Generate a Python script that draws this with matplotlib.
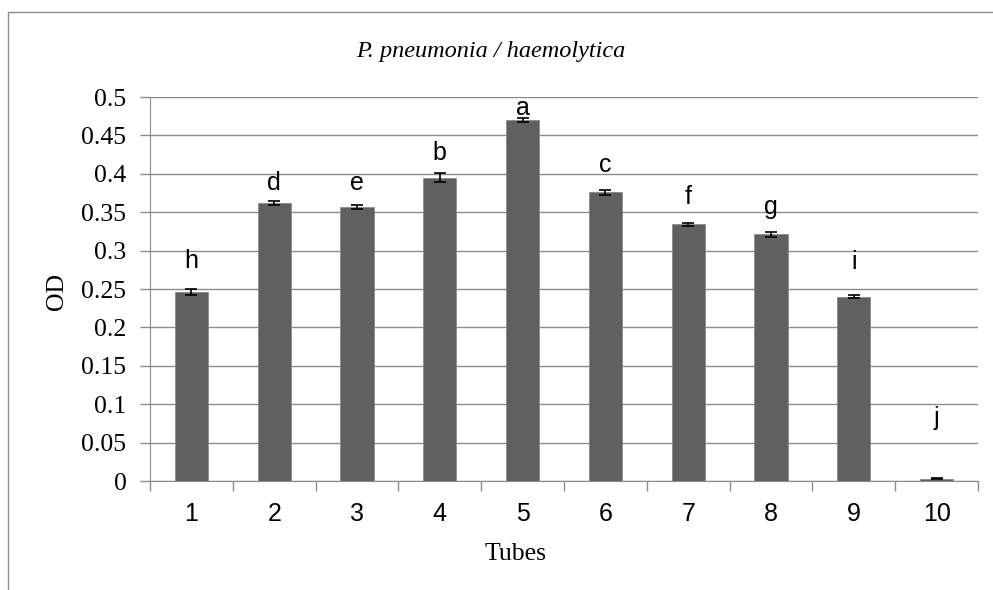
import matplotlib.pyplot as plt
from matplotlib.patches import Rectangle

tubes = [1, 2, 3, 4, 5, 6, 7, 8, 9, 10]
od = [0.246, 0.362, 0.357, 0.395, 0.470, 0.376, 0.334, 0.321, 0.240, 0.003]
err = [0.004, 0.002, 0.003, 0.0055, 0.003, 0.003, 0.002, 0.003, 0.002, 0.001]
letters = ['h', 'd', 'e', 'b', 'a', 'c', 'f', 'g', 'i', 'j']
letter_y = [0.286, 0.388, 0.388, 0.427, 0.486, 0.411, 0.370, 0.357, 0.285, 0.082]

fig = plt.figure(figsize=(9.93, 5.90), dpi=100)
# outer chart frame
fig.patches.append(Rectangle((8 / 993, -0.05), 1.1, 1 - 12 / 590 + 0.05,
                             transform=fig.transFigure, fill=False,
                             edgecolor='#8c8c8c', linewidth=1))

ax = fig.add_axes([150 / 993, 109 / 590, 828 / 993, 384 / 590])
ax.bar(tubes, od, width=0.4, color='#606060', edgecolor='#8a8a8a',
       linewidth=0.6, zorder=3)
ax.errorbar(tubes, od, yerr=err, fmt='none', ecolor='black',
            elinewidth=1.2, capsize=4.5, capthick=1.2, zorder=4)

for x, y, s in zip(tubes, letter_y, letters):
    ax.text(x, y, s, ha='center', va='center', fontsize=18,
            family='Liberation Sans', zorder=5)

ax.set_xlim(0.5, 10.5)
ax.set_ylim(0, 0.5)
ax.set_yticks([i * 0.05 for i in range(11)])
ax.set_yticklabels(['0', '0.05', '0.1', '0.15', '0.2', '0.25', '0.3', '0.35',
                    '0.4', '0.45', '0.5'], family='Liberation Serif', fontsize=18.5)
ax.set_xticks([i + 0.5 for i in range(11)])
ax.set_xticklabels([])
ax.set_xticks(tubes, minor=True)
ax.set_xticklabels([str(t) for t in tubes], minor=True,
                   family='Liberation Sans', fontsize=18)
ax.tick_params(axis='x', which='minor', length=0, pad=15)
ax.tick_params(axis='both', which='major', length=7, color='#8c8c8c',
               width=1)
ax.tick_params(axis='y', pad=10)

ax.grid(axis='y', color='#8c8c8c', linewidth=1, zorder=0)
for side in ['top', 'right']:
    ax.spines[side].set_visible(False)
for side in ['left', 'bottom']:
    ax.spines[side].set_color('#8c8c8c')

fig.text(516 / 993, 1 - 554 / 590, 'Tubes', ha='center', va='center',
         family='Liberation Serif', fontsize=18.5)
fig.text(57 / 993, 1 - 292 / 590, 'OD', ha='center', va='center',
         rotation=90, family='Liberation Serif', fontsize=18.5)
fig.text(491 / 993, 1 - 51 / 590, 'P. pneumonia / haemolytica',
         ha='center', va='center', family='Liberation Serif',
         style='italic', fontsize=17.5)

plt.savefig('out.png', dpi=100)
